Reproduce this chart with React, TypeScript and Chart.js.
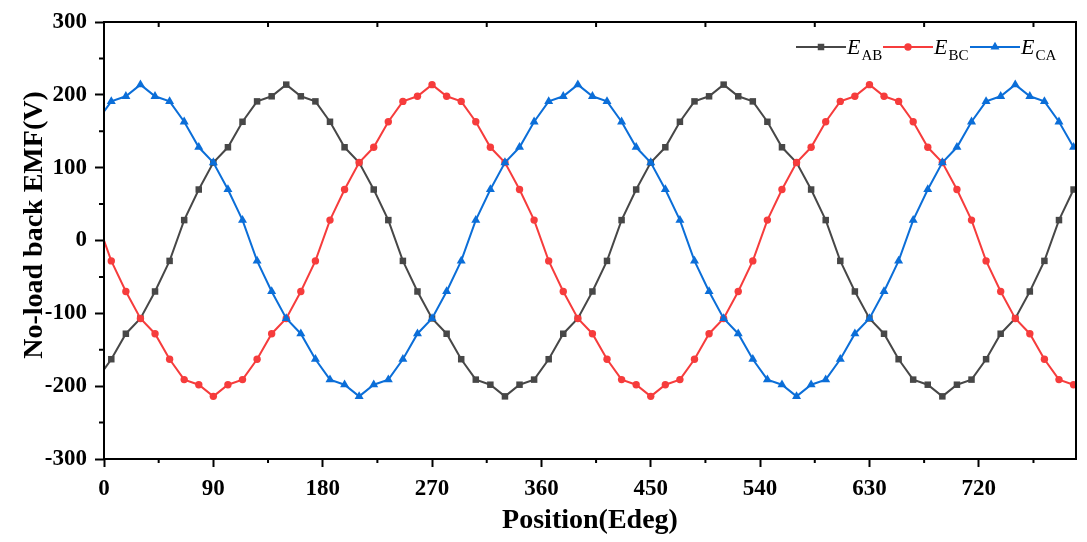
import { Chart, registerables } from "chart.js";
import { useEffect, useRef } from "react";

Chart.register(...registerables);

// positions (electrical degrees), first point sits just left of the axis and is clipped
const positions = [
    -6, 6, 18, 30, 42, 54, 66, 78, 90, 102, 114, 126, 138, 150, 162, 174, 186, 198, 210, 222, 234, 246, 258,
    270, 282, 294, 306, 318, 330, 342, 354, 366, 378, 390, 402, 414, 426, 438, 450, 462, 474, 486, 498, 510,
    522, 534, 546, 558, 570, 582, 594, 606, 618, 630, 642, 654, 666, 678, 690, 702, 714, 726, 738, 750, 762,
    774, 786, 798,
];

const eAB = [
    -191, -163, -128, -107, -70, -28, 28, 70, 107, 128, 163, 191, 198,
    214, 198, 191, 163, 128, 107, 70, 28, -28, -70, -107, -128, -163, -191, -198,
    -214, -198, -191, -163, -128, -107, -70, -28, 28, 70, 107, 128, 163, 191, 198,
    214, 198, 191, 163, 128, 107, 70, 28, -28, -70, -107, -128, -163, -191, -198,
    -214, -198, -191, -163, -128, -107, -70, -28, 28, 70,
];

const eBC = [
    28, -28, -70, -107, -128, -163, -191, -198,
    -214, -198, -191, -163, -128, -107, -70, -28, 28, 70, 107, 128, 163, 191, 198,
    214, 198, 191, 163, 128, 107, 70, 28, -28, -70, -107, -128, -163, -191, -198,
    -214, -198, -191, -163, -128, -107, -70, -28, 28, 70, 107, 128, 163, 191, 198,
    214, 198, 191, 163, 128, 107, 70, 28, -28, -70, -107, -128, -163, -191, -198,
];

const eCA = [
    163, 191, 198,
    214, 198, 191, 163, 128, 107, 70, 28, -28, -70, -107, -128, -163, -191, -198,
    -214, -198, -191, -163, -128, -107, -70, -28, 28, 70, 107, 128, 163, 191, 198,
    214, 198, 191, 163, 128, 107, 70, 28, -28, -70, -107, -128, -163, -191, -198,
    -214, -198, -191, -163, -128, -107, -70, -28, 28, 70, 107, 128, 163, 191, 198,
    214, 198, 191, 163, 128,
];

const xTicks = [0, 90, 180, 270, 360, 450, 540, 630, 720];
const xMinor = [45, 135, 225, 315, 405, 495, 585, 675, 765];
const yTicks = [-300, -200, -100, 0, 100, 200, 300];
const yMinor = [-250, -150, -50, 50, 150, 250];

const subs = ["AB", "BC", "CA"];
const colors = ["#474747", "#f63c3c", "#0b6ed8"];
const shapes = ["rect", "circle", "triangle"];
const radii = [4.6, 3.7, 5.2];

const serif = "'Liberation Serif', 'Times New Roman', serif";

function marker(ctx: CanvasRenderingContext2D, shape: string, x: number, y: number, r: number) {
    ctx.beginPath();
    if (shape === "rect") {
        const h = r * Math.SQRT1_2;
        ctx.rect(x - h, y - h, h * 2, h * 2);
    } else if (shape === "circle") {
        ctx.arc(x, y, r, 0, Math.PI * 2);
    } else {
        ctx.moveTo(x, y - r);
        ctx.lineTo(x + r * Math.sin((2 * Math.PI) / 3), y - r * Math.cos((2 * Math.PI) / 3));
        ctx.lineTo(x + r * Math.sin((4 * Math.PI) / 3), y - r * Math.cos((4 * Math.PI) / 3));
        ctx.closePath();
    }
    ctx.fill();
}

const framePlugin = {
    id: "frame",
    afterDraw(chart: any) {
        const { ctx, chartArea: a, scales } = chart;
        const xs = scales.x;
        const ys = scales.y;
        ctx.save();

        // box + minor ticks
        ctx.strokeStyle = "#000";
        ctx.lineWidth = 2;
        ctx.strokeRect(a.left, a.top, a.right - a.left, a.bottom - a.top);
        ctx.beginPath();
        xMinor.forEach((v) => {
            const px = xs.getPixelForValue(v);
            ctx.moveTo(px, a.bottom);
            ctx.lineTo(px, a.bottom + 4);
            ctx.moveTo(px, a.top);
            ctx.lineTo(px, a.top + 5);
        });
        yMinor.forEach((v) => {
            const py = ys.getPixelForValue(v);
            ctx.moveTo(a.left, py);
            ctx.lineTo(a.left - 5, py);
        });
        ctx.stroke();

        // axis titles
        ctx.fillStyle = "#000";
        ctx.font = `bold 28px ${serif}`;
        ctx.textAlign = "center";
        ctx.textBaseline = "alphabetic";
        ctx.fillText("Position(Edeg)", (a.left + a.right) / 2, 528);
        ctx.save();
        ctx.translate(42, 225);
        ctx.rotate(-Math.PI / 2);
        ctx.fillText("No-load back EMF(V)", 0, 0);
        ctx.restore();

        // legend
        const ly = 47;
        subs.forEach((s, i) => {
            const x0 = a.right - 280 + i * 87;
            ctx.strokeStyle = colors[i];
            ctx.fillStyle = colors[i];
            ctx.lineWidth = 2;
            ctx.beginPath();
            ctx.moveTo(x0, ly);
            ctx.lineTo(x0 + 50, ly);
            ctx.stroke();
            marker(ctx, shapes[i], x0 + 25, ly, radii[i]);
            ctx.fillStyle = "#000";
            ctx.textAlign = "left";
            ctx.font = `italic 22px ${serif}`;
            ctx.fillText("E", x0 + 51, 54);
            const w = ctx.measureText("E").width;
            ctx.font = `15px ${serif}`;
            ctx.fillText(s, x0 + 51 + w + 1, 60);
        });
        ctx.restore();
    },
};

export default function App() {
    const canvasRef = useRef<HTMLCanvasElement | null>(null);
    const chartRef = useRef<Chart | null>(null);

    useEffect(() => {
        document.body.style.margin = "0";
        const ctx = canvasRef.current?.getContext("2d");
        if (chartRef.current) {
            chartRef.current.destroy();
        }

        const series = [eAB, eBC, eCA];
        chartRef.current = new Chart(ctx!, {
            type: "line",
            data: {
                datasets: series.map((vals, i) => ({
                    label: "E" + subs[i],
                    data: positions.map((p, j) => ({ x: p, y: vals[j] })),
                    borderColor: colors[i],
                    backgroundColor: colors[i],
                    borderWidth: 2,
                    pointStyle: shapes[i] as any,
                    pointRadius: radii[i],
                    pointBorderWidth: 0,
                    tension: 0,
                    order: 3 - i,
                })),
            },
            options: {
                animation: false,
                responsive: false,
                layout: { padding: { top: 22, right: 11, left: 0, bottom: 0 } },
                plugins: {
                    legend: { display: false },
                    tooltip: { enabled: false },
                },
                scales: {
                    x: {
                        type: "linear",
                        min: 0,
                        max: 800,
                        afterBuildTicks: (s: any) => {
                            s.ticks = xTicks.map((v) => ({ value: v }));
                        },
                        afterFit: (s: any) => {
                            s.height = 83;
                        },
                        border: { display: false },
                        grid: { drawOnChartArea: false, tickLength: 8, tickWidth: 2, tickColor: "#000" },
                        ticks: {
                            color: "#000",
                            padding: 8,
                            maxRotation: 0,
                            autoSkip: false,
                            font: { family: serif, size: 23, weight: "bold" },
                        },
                    },
                    y: {
                        min: -300,
                        max: 300,
                        afterBuildTicks: (s: any) => {
                            s.ticks = yTicks.map((v) => ({ value: v }));
                        },
                        afterFit: (s: any) => {
                            s.width = 104;
                        },
                        border: { display: false },
                        grid: { drawOnChartArea: false, tickLength: 9, tickWidth: 2, tickColor: "#000" },
                        ticks: {
                            color: "#000",
                            padding: 8,
                            autoSkip: false,
                            font: { family: serif, size: 23, weight: "bold" },
                        },
                    },
                },
            },
            plugins: [framePlugin],
        });

        return () => {
            if (chartRef.current) {
                chartRef.current.destroy();
                chartRef.current = null;
            }
        };
    }, []);

    return (
        <div style={{ width: 1087, height: 542, background: "#fff" }}>
            <canvas ref={canvasRef} width={1087} height={542} style={{ display: "block" }} />
        </div>
    );
}
